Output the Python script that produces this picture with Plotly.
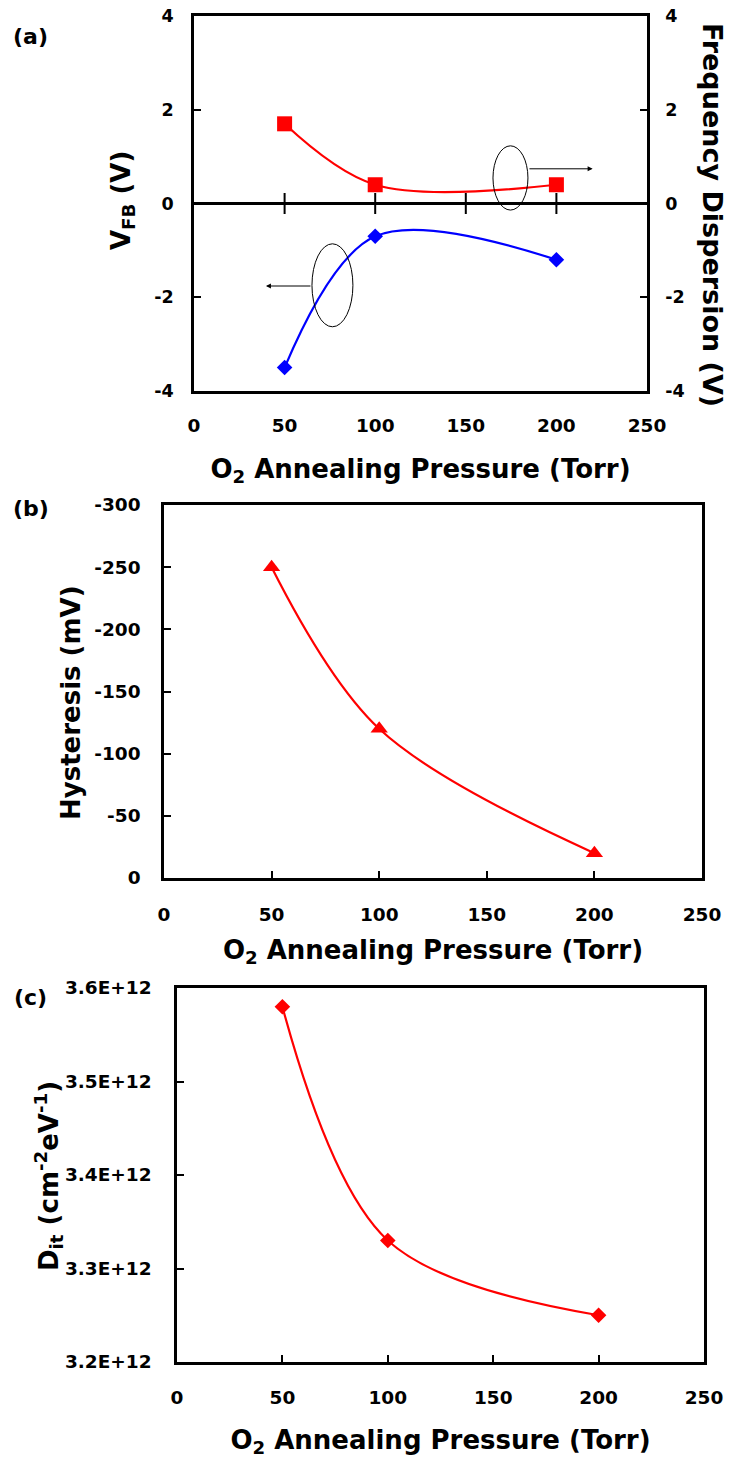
import plotly.graph_objects as go

# ---------------- data ----------------
pressure = [50, 100, 200]
vfb = [-3.5, -0.7, -1.2]
freq_disp = [1.7, 0.4, 0.4]
hysteresis = [-250, -120, -20]
dit = [3.58e12, 3.33e12, 3.25e12]

x_ticks = [0, 50, 100, 150, 200, 250]
x_ticktext = ["0", "50", "100", "150", "200", "250"]
a_yticks = [-4, -2, 0, 2, 4]
a_yticktext = ["-4", "-2", "0", "2", "4"]
b_yticks = [0, -50, -100, -150, -200, -250, -300]
b_yticktext = ["0", "-50", "-100", "-150", "-200", "-250", "-300"]
c_yticks = [3.2e12, 3.3e12, 3.4e12, 3.5e12, 3.6e12]
c_yticktext = ["3.2E+12", "3.3E+12", "3.4E+12", "3.5E+12", "3.6E+12"]

# ---------------- layout constants ----------------
W, H = 734, 1458
FAM = "DejaVu Sans, sans-serif"
RED = "#FF0000"
BLUE = "#0000FF"


def fx(px):
    return px / W


def fy(py):
    return 1 - py / H


def bold(labels):
    return ["<b>%s</b>" % t for t in labels]


A_X = [fx(194), fx(647)]
A_Y = [fy(391), fy(16)]
B_X = [fx(164), fx(702)]
B_Y = [fy(878), fy(505)]
C_X = [fx(177), fx(704)]
C_Y = [fy(1362), fy(988)]

A_RANGE = [-4, 4]

tick_font = dict(family=FAM, size=18.5, color="black", weight="bold")
tick_font_a = dict(family=FAM, size=17.5, color="black", weight="bold")
title_font = dict(family=FAM, size=26, color="black", weight="bold")

fig = go.Figure()

# panel (a): crossing tick marks on the x axis drawn at y = 0
fig.add_trace(go.Scatter(
    x=x_ticks[1:-1], y=[0] * len(x_ticks[1:-1]), mode="markers", xaxis="x", yaxis="y",
    marker=dict(symbol="line-ns-open", size=15, color="black",
                line=dict(width=2, color="black")),
    hoverinfo="skip", showlegend=False))
fig.add_trace(go.Scatter(
    x=pressure, y=vfb, mode="lines+markers", xaxis="x", yaxis="y",
    line=dict(color=BLUE, width=2.2, shape="spline"),
    marker=dict(symbol="diamond", size=12, color=BLUE), name="VFB"))
fig.add_trace(go.Scatter(
    x=pressure, y=freq_disp, mode="lines+markers", xaxis="x", yaxis="y2",
    line=dict(color=RED, width=2.2, shape="spline"),
    marker=dict(symbol="square", size=15, color=RED), name="Frequency Dispersion"))

# panel (b)
fig.add_trace(go.Scatter(
    x=pressure, y=hysteresis, mode="lines+markers", xaxis="x2", yaxis="y3",
    line=dict(color=RED, width=2.2, shape="spline"),
    marker=dict(symbol="triangle-up", size=15, color=RED), name="Hysteresis"))

# panel (c)
fig.add_trace(go.Scatter(
    x=pressure, y=dit, mode="lines+markers", xaxis="x3", yaxis="y4",
    line=dict(color=RED, width=2.2, shape="spline"),
    marker=dict(symbol="diamond", size=12, color=RED), name="Dit"))

axis_common = dict(showline=True, linecolor="black", linewidth=2.5, mirror=True,
                   showgrid=False, automargin=False)

xtitle = "<b>O<sub>2</sub> Annealing Pressure (Torr)</b>"

fig.update_layout(
    width=W, height=H,
    margin=dict(l=0, r=0, t=0, b=0, pad=0, autoexpand=False),
    paper_bgcolor="white", plot_bgcolor="white",
    showlegend=False,
    # ---- panel (a)
    xaxis=dict(domain=A_X, anchor="y", range=[0, 250], tickvals=x_ticks,
               ticktext=bold(x_ticktext), ticks="",
               tickfont=tick_font, ticklabelstandoff=16, zeroline=False,
               title=dict(text=xtitle, font=title_font, standoff=25), **axis_common),
    yaxis=dict(domain=A_Y, anchor="x", range=A_RANGE, tickvals=a_yticks,
               ticktext=bold(a_yticktext),
               ticks="inside", ticklen=7, tickwidth=2, tickcolor="black", tickfont=tick_font_a,
               ticklabelstandoff=14,
               zeroline=True, zerolinecolor="black", zerolinewidth=2.5,
               **axis_common),
    yaxis2=dict(overlaying="y", anchor="x", side="right", range=A_RANGE, tickvals=a_yticks,
                ticktext=bold(a_yticktext),
                ticks="inside", ticklen=7, tickwidth=2, tickcolor="black", tickfont=tick_font_a,
                ticklabelstandoff=12, automargin=False,
                showline=True, linecolor="black", linewidth=2.5, showgrid=False, zeroline=False),
    # ---- panel (b)
    xaxis2=dict(domain=B_X, anchor="y3", range=[0, 250], tickvals=x_ticks,
                ticktext=bold(x_ticktext), ticks="inside",
                ticklen=7, tickwidth=2, tickcolor="black", tickfont=tick_font,
                ticklabelstandoff=18, zeroline=False,
                title=dict(text=xtitle, font=title_font, standoff=17), **axis_common),
    yaxis3=dict(domain=B_Y, anchor="x2", range=[0, -300], tickvals=b_yticks,
                ticktext=bold(b_yticktext), ticks="inside",
                ticklen=7, tickwidth=2, tickcolor="black", tickfont=tick_font,
                ticklabelstandoff=17, zeroline=False,
                **axis_common),
    # ---- panel (c)
    xaxis3=dict(domain=C_X, anchor="y4", range=[0, 250], tickvals=x_ticks,
                ticktext=bold(x_ticktext), ticks="inside",
                ticklen=7, tickwidth=2, tickcolor="black", tickfont=tick_font,
                ticklabelstandoff=17, zeroline=False,
                title=dict(text=xtitle, font=title_font, standoff=24), **axis_common),
    yaxis4=dict(domain=C_Y, anchor="x3", range=[3.2e12, 3.6e12], tickvals=c_yticks,
                ticktext=bold(c_yticktext), ticks="inside", ticklen=7, tickwidth=2,
                tickcolor="black", tickfont=tick_font, ticklabelstandoff=19, zeroline=False,
                **axis_common),
)

# y-axis titles placed as rotated annotations
ytitles = [
    ("<b>V<sub>FB</sub> (V)</b>", 123, 201, -90, 26),
    ("<b>Hysteresis (mV)</b>", 71, 703, -90, 26),
    ("<b>D<sub>it</sub> (cm<sup>-2</sup>eV<sup>-1</sup>)</b>", 48, 1176, -90, 26),
    ("<b>Frequency Dispersion (V)</b>", 713, 215, 90, 27),
]
for txt, px, py, ang, sz in ytitles:
    fig.add_annotation(text=txt, xref="paper", yref="paper", x=fx(px), y=fy(py),
                       textangle=ang, showarrow=False,
                       font=dict(family=FAM, size=sz, color="black", weight="bold"),
                       xanchor="center", yanchor="middle")

# panel letters
for lab, (px, py) in {"(a)": (30, 37), "(b)": (31, 508), "(c)": (30, 997)}.items():
    fig.add_annotation(text="<b>%s</b>" % lab, xref="paper", yref="paper", x=fx(px), y=fy(py),
                       showarrow=False, font=dict(family=FAM, size=22, color="black", weight="bold"),
                       xanchor="center", yanchor="middle")

# ellipses + arrows in panel (a)
fig.add_shape(type="circle", xref="x", yref="y", x0=165, x1=184.3, y0=-0.14, y1=1.23,
              line=dict(color="black", width=1))
fig.add_shape(type="circle", xref="x", yref="y", x0=65.1, x1=87.7, y0=-2.63, y1=-0.86,
              line=dict(color="black", width=1))
fig.add_annotation(x=220, y=0.74, ax=184.3, ay=0.74, xref="x", yref="y", axref="x", ayref="y",
                   text="", showarrow=True, arrowhead=2, arrowsize=1, arrowwidth=1,
                   arrowcolor="black")
fig.add_annotation(x=39.7, y=-1.76, ax=65.1, ay=-1.76, xref="x", yref="y", axref="x", ayref="y",
                   text="", showarrow=True, arrowhead=2, arrowsize=1, arrowwidth=1,
                   arrowcolor="black")

fig.write_html("out.html",
               post_script="document.body.style.margin='0';document.body.style.overflow='hidden';")
